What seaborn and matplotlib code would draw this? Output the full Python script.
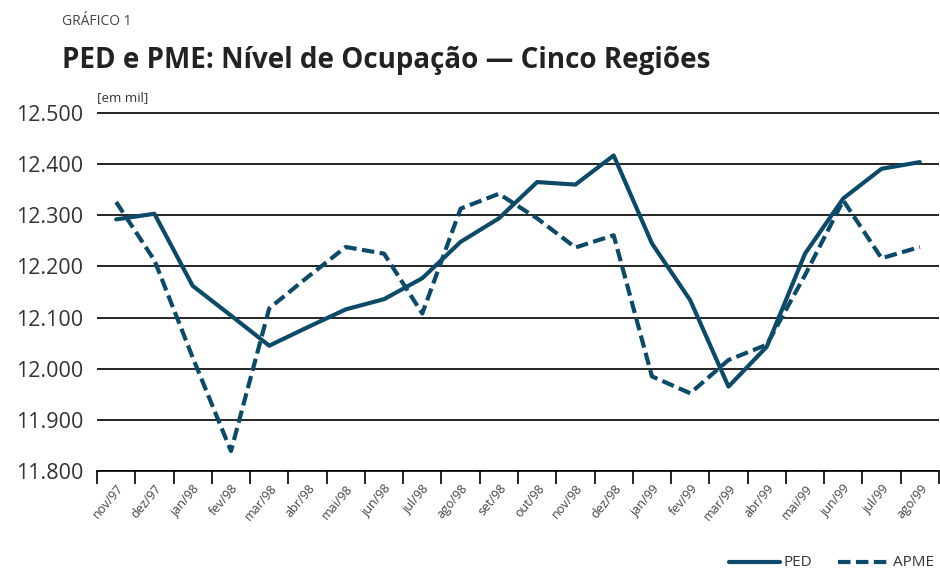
import pandas as pd
import matplotlib.pyplot as plt
import seaborn as sns
from matplotlib.ticker import FuncFormatter

# months on the x axis
months = ['nov/97', 'dez/97', 'jan/98', 'fev/98', 'mar/98', 'abr/98', 'mai/98', 'jun/98',
          'jul/98', 'ago/98', 'set/98', 'out/98', 'nov/98', 'dez/98', 'jan/99', 'fev/99',
          'mar/99', 'abr/99', 'mai/99', 'jun/99', 'jul/99', 'ago/99']

# occupation level, thousands
ped = [12292, 12303, 12162, 12104, 12045, 12081, 12116, 12136, 12177, 12248, 12294,
       12365, 12360, 12417, 12245, 12134, 11965, 12043, 12225, 12333, 12391, 12404]
apme = [12326, 12212, 12022, 11839, 12118, 12179, 12238, 12225, 12108, 12313, 12342,
        12294, 12237, 12261, 11985, 11952, 12017, 12047, 12183, 12329, 12216, 12238]

df = pd.DataFrame({
    'pos': list(range(len(months))) * 2,
    'valor': ped + apme,
    'serie': ['PED'] * len(ped) + ['APME'] * len(apme),
})

sns.set_theme(style='white')
plt.rcParams['font.family'] = ['Open Sans', 'DejaVu Sans']

blue = '#0b4a68'
fig = plt.figure(figsize=(9.4, 5.72), dpi=100)
ax = fig.add_axes([0.1032, 0.1766, 0.8957, 0.6276])

sns.lineplot(data=df, x='pos', y='valor', hue='serie', style='serie',
             palette={'PED': blue, 'APME': blue},
             dashes={'PED': '', 'APME': (3, 1.3)},
             linewidth=3, ax=ax, legend=False, zorder=3)

# y axis
ax.set_ylim(11800, 12502)
ax.set_yticks(range(11800, 12501, 100))
ax.yaxis.set_major_formatter(FuncFormatter(lambda v, p: f'{int(v):,}'.replace(',', '.')))
ax.tick_params(axis='y', length=0, labelsize=15.5, labelcolor='#333333', pad=10)
ax.grid(axis='y', color='black', linewidth=1.2)
ax.set_axisbelow(True)

# x axis: labels at month centres, tick marks between months
ax.set_xlim(-0.5, len(months) - 0.5)
ax.set_xticks(range(len(months)))
ax.set_xticklabels(months, rotation=50, ha='right', rotation_mode='anchor',
                   fontsize=9, color='#444444')
ax.tick_params(axis='x', length=0, pad=8)
ax.set_xticks([i - 0.5 for i in range(len(months) + 1)], minor=True)
ax.tick_params(axis='x', which='minor', length=9, width=1.2, color='black',
               direction='out', bottom=True)

ax.set_xlabel('')
ax.set_ylabel('')
for s in ['top', 'right', 'left']:
    ax.spines[s].set_visible(False)
ax.spines['bottom'].set_color('black')
ax.spines['bottom'].set_linewidth(1.2)

# titles
fig.text(0.066, 0.962, 'GRÁFICO 1', fontsize=10, color='#444444', va='center')
fig.text(0.066, 0.895, 'PED e PME: Nível de Ocupação — Cinco Regiões',
         fontsize=20, fontweight='bold', color='#222222', va='center')
fig.text(0.103, 0.830, '[em mil]', fontsize=9.5, color='#333333', va='center')

# legend at the bottom right
fig.lines.append(plt.Line2D([0.775, 0.830], [0.017, 0.017], transform=fig.transFigure,
                            color=blue, linewidth=3))
fig.text(0.833, 0.017, 'PED', fontsize=11, color='#333333', va='center')
fig.lines.append(plt.Line2D([0.892, 0.947], [0.017, 0.017], transform=fig.transFigure,
                            color=blue, linewidth=3, dashes=(3, 1.3)))
fig.text(0.950, 0.017, 'APME', fontsize=11, color='#333333', va='center')

plt.savefig('out.png', dpi=100)
